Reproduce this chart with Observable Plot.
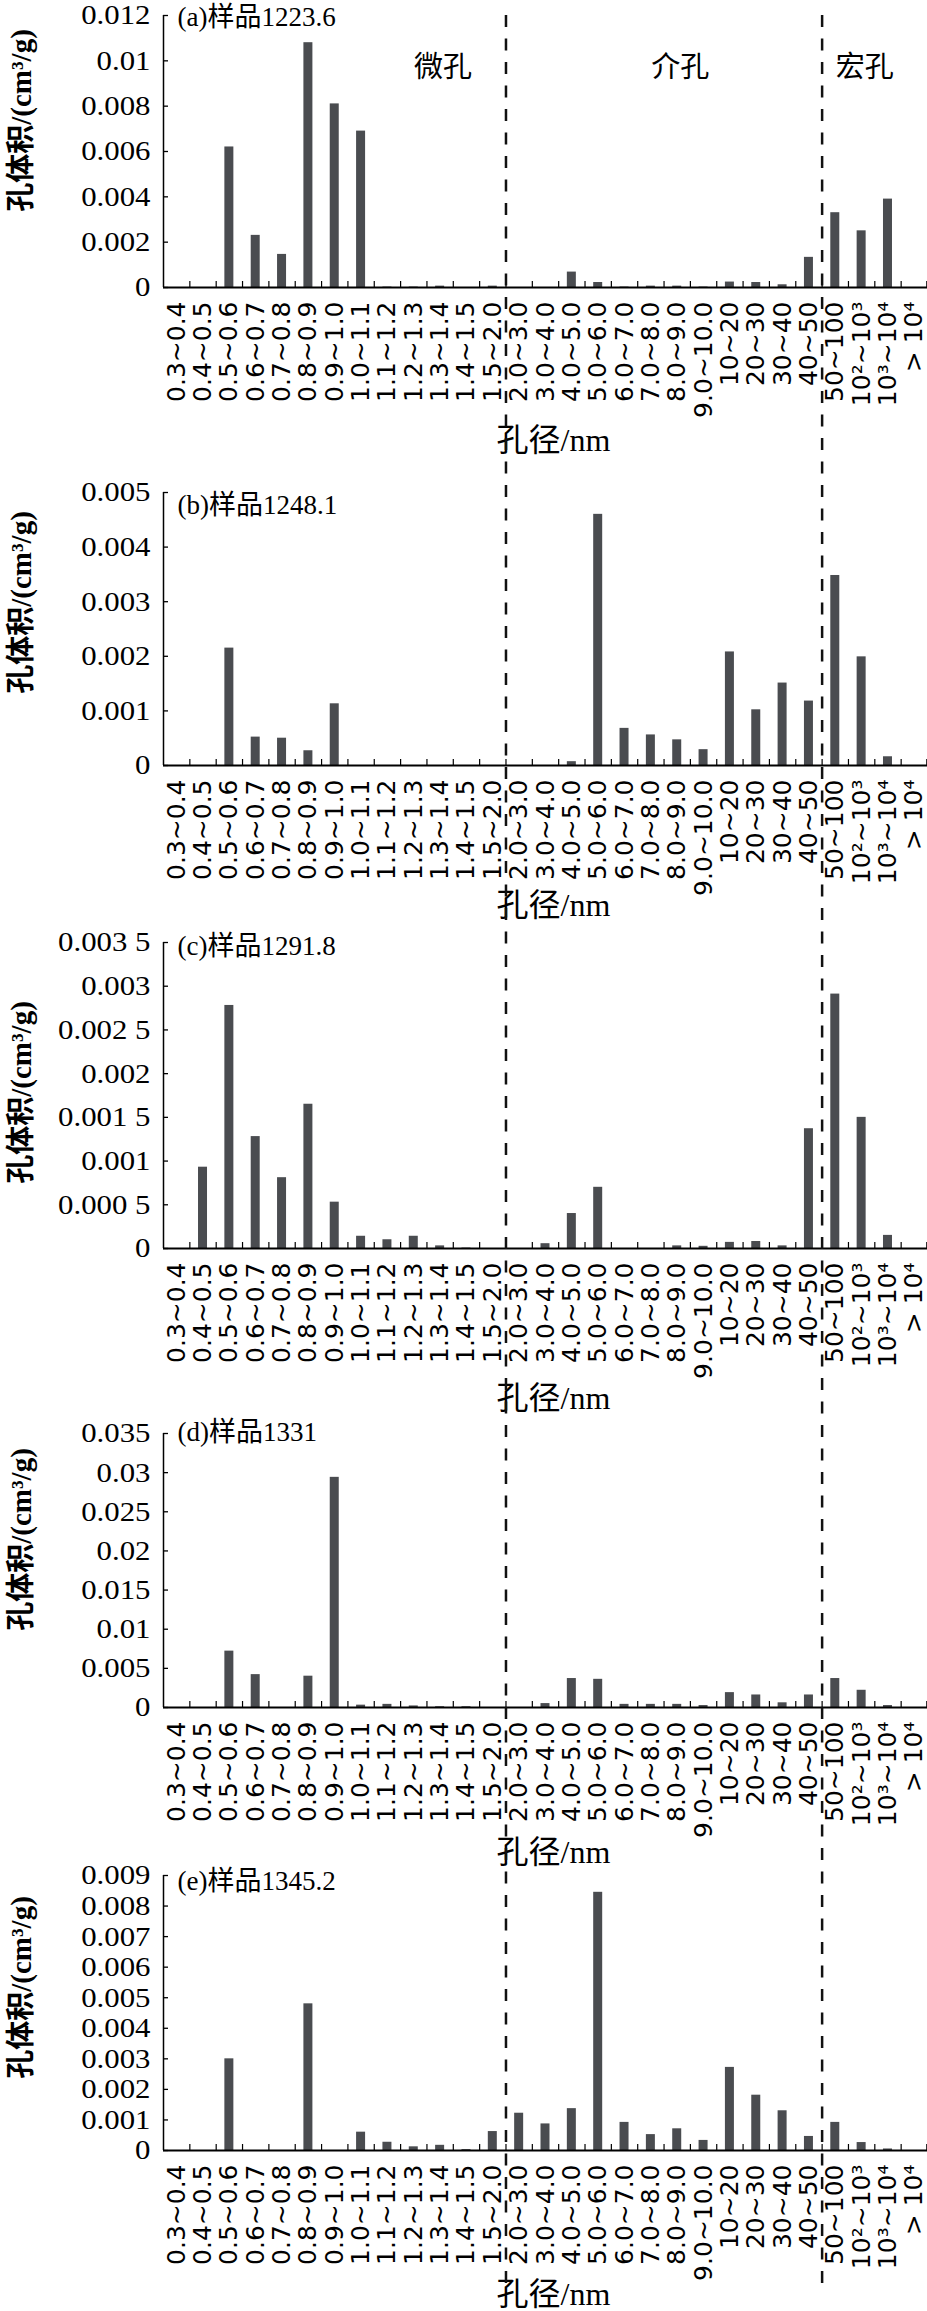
<!DOCTYPE html>
<html><head><meta charset="utf-8">
<script src="https://cdn.jsdelivr.net/npm/d3@7"></script>
<script src="https://cdn.jsdelivr.net/npm/@observablehq/plot@0.6"></script>
<style>
html,body{margin:0;padding:0;background:#fff;}
#chart{width:927px;background:#fff;}
#chart svg{display:block;overflow:visible;}
</style></head><body><div id="chart"></div>
<script>
// ---- data ----
const categories = ["0.3~0.4","0.4~0.5","0.5~0.6","0.6~0.7","0.7~0.8","0.8~0.9","0.9~1.0","1.0~1.1","1.1~1.2","1.2~1.3","1.3~1.4","1.4~1.5","1.5~2.0","2.0~3.0","3.0~4.0","4.0~5.0","5.0~6.0","6.0~7.0","7.0~8.0","8.0~9.0","9.0~10.0","10~20","20~30","30~40","40~50","50~100","10²~10³","10³~10⁴","> 10⁴"];

const sample1223_6 = [0, 0, 0.0062, 0.0023, 0.00146, 0.0108, 0.0081, 0.0069, 0.00002, 0.00002, 0.00006, 0, 0.00006, 0, 0, 0.00068, 0.00022, 0.00002, 0.00006, 0.00006, 0.00002, 0.00024, 0.00022, 0.00012, 0.00133, 0.0033, 0.0025, 0.0039, 0];
const sample1248_1 = [0, 0, 0.00215, 0.00052, 0.0005, 0.00027, 0.00113, 0, 0, 0, 0, 0, 0, 0, 0, 0.00007, 0.0046, 0.00068, 0.00056, 0.00047, 0.00029, 0.00208, 0.00102, 0.00151, 0.00118, 0.00348, 0.00199, 0.00016, 0];
const sample1291_8 = [0, 0.00093, 0.00278, 0.00128, 0.00081, 0.00165, 0.00053, 0.00014, 0.0001, 0.00014, 0.00003, 0.000005, 0, 0, 0.000055, 0.0004, 0.0007, 0, 0, 0.00003, 0.000025, 0.00007, 0.00008, 0.00003, 0.00137, 0.00291, 0.0015, 0.00015, 0];
const sample1331 = [0, 0, 0.0072, 0.0042, 0, 0.004, 0.0294, 0.0003, 0.0004, 0.0002, 0.0001, 0.0001, 0, 0, 0.0005, 0.0037, 0.0036, 0.0004, 0.0004, 0.0004, 0.00025, 0.0019, 0.0016, 0.0006, 0.0016, 0.0037, 0.0022, 0.00025, 0];
const sample1345_2 = [0, 0, 0.003, 0, 0, 0.0048, 0, 0.0006, 0.00027, 0.00012, 0.00017, 0.00003, 0.00062, 0.00122, 0.00087, 0.00137, 0.00845, 0.00092, 0.00052, 0.00071, 0.00033, 0.00272, 0.00181, 0.0013, 0.00046, 0.00092, 0.00026, 0.00005, 0];

const yTicksA = [0, 0.002, 0.004, 0.006, 0.008, 0.01, 0.012];
const yTickLabelsA = ["0", "0.002", "0.004", "0.006", "0.008", "0.01", "0.012"];
const yTicksB = [0, 0.001, 0.002, 0.003, 0.004, 0.005];
const yTickLabelsB = ["0", "0.001", "0.002", "0.003", "0.004", "0.005"];
const yTicksC = [0, 0.0005, 0.001, 0.0015, 0.002, 0.0025, 0.003, 0.0035];
const yTickLabelsC = ["0", "0.000 5", "0.001", "0.001 5", "0.002", "0.002 5", "0.003", "0.003 5"];
const yTicksD = [0, 0.005, 0.01, 0.015, 0.02, 0.025, 0.03, 0.035];
const yTickLabelsD = ["0", "0.005", "0.01", "0.015", "0.02", "0.025", "0.03", "0.035"];
const yTicksE = [0, 0.001, 0.002, 0.003, 0.004, 0.005, 0.006, 0.007, 0.008, 0.009];
const yTickLabelsE = ["0", "0.001", "0.002", "0.003", "0.004", "0.005", "0.006", "0.007", "0.008", "0.009"];

const panelTitles = ["(a)样品1223.6", "(b)样品1248.1", "(c)样品1291.8", "(d)样品1331", "(e)样品1345.2"];
const regionLabels = ["微孔", "介孔", "宏孔"];
const regionAnchors = ["1.3~1.4", "8.0~9.0", "10²~10³"];
const dividerCats = ["2.0~3.0", "50~100"];
const yTitle = "孔体积/(cm³/g)";
const xTitle = "孔径/nm";

// ---- layout ----
const W = 927, ML = 163, MR = 0;
const frameW = W - ML - MR;
const bw = frameW / categories.length;
const barW = 9;
const serif = "'Liberation Serif','Noto Sans CJK SC',serif";
const dashPeriod = 23.5;

const panels = [
  {values: sample1223_6, domain: [0, 0.012], ticks: yTicksA, labels: yTickLabelsA, h: 466, mt: 15, mb: 179, titleDy: 2, yLabelDy: 105, xTitleDy: 153, regions: true},
  {values: sample1248_1, domain: [0, 0.005], ticks: yTicksB, labels: yTickLabelsB, h: 456, mt: 26, mb: 157, titleDy: 13, yLabelDy: 110, xTitleDy: 140},
  {values: sample1291_8, domain: [0, 0.0035], ticks: yTicksC, labels: yTickLabelsC, h: 494, mt: 20, mb: 168, titleDy: 4, yLabelDy: 150, xTitleDy: 150},
  {values: sample1331, domain: [0, 0.035], ticks: yTicksD, labels: yTickLabelsD, h: 452, mt: 17, mb: 161, titleDy: -1, yLabelDy: 106, xTitleDy: 145},
  {values: sample1345_2, domain: [0, 0.009], ticks: yTicksE, labels: yTickLabelsE, h: 443, mt: 7, mb: 161, titleDy: 6, yLabelDy: 112, xTitleDy: 144, dashEnd: 417}
];

function stretch(svg, selector, factor) {
  d3.select(svg).selectAll(selector).each(function () {
    const len = this.getComputedTextLength();
    if (len > 0) {
      this.setAttribute("textLength", (len * factor).toFixed(2));
      this.setAttribute("lengthAdjust", "spacingAndGlyphs");
    }
  });
}

const chart = document.getElementById("chart");
let yOffset = 0;
const firstDashStart = panels[0].mt;

panels.forEach((p, k) => {
  const data = categories.map((c, i) => ({cat: c, v: p.values[i]}));
  const labelMap = new Map(p.ticks.map((t, i) => [t, p.labels[i]]));
  const dashStartLocal = k === 0 ? p.mt : 0;
  const dashEndLocal = p.dashEnd != null ? p.dashEnd : p.h;
  const dashOffset = ((yOffset + dashStartLocal - firstDashStart) % dashPeriod + dashPeriod) % dashPeriod;
  const marks = [
    Plot.barY(data, {x: "cat", y: "v", fill: "#4a4c50", insetLeft: (bw - barW) / 2, insetRight: (bw - barW) / 2}),
    // boundary ticks (pointing up)
    Plot.ruleX(categories.slice(1), {x: d => d, dx: -bw / 2, y1: 0, y2: 0, insetTop: -6, stroke: "#000", strokeWidth: 1.2}),
    Plot.ruleX([categories[categories.length - 1]], {x: d => d, dx: bw / 2 - 0.7, y1: 0, y2: 0, insetTop: -6, stroke: "#000", strokeWidth: 1.2}),
    // y axis line
    Plot.ruleX([categories[0]], {x: d => d, dx: -bw / 2, stroke: "#000", strokeWidth: 1.5}),
    // x axis line
    Plot.ruleY([0], {stroke: "#000", strokeWidth: 1.8}),
    // y ticks pointing in
    Plot.ruleY(p.ticks, {insetRight: frameW - 5, stroke: "#000", strokeWidth: 1.3}),
    Plot.axisY(p.ticks, {tickSize: 0, tickPadding: 13, tickFormat: d => labelMap.get(d), fontSize: 28, fontFamily: serif}),
    Plot.text(categories, {x: d => d, text: d => d, frameAnchor: "bottom", rotate: -90, textAnchor: "end", lineAnchor: "middle", dy: 14, fontSize: 25, fontFamily: "'DejaVu Sans',sans-serif"}),
    Plot.text([panelTitles[k]], {text: d => d, frameAnchor: "top-left", dx: 14, dy: p.titleDy, textAnchor: "start", lineAnchor: "middle", fontSize: 27, fontFamily: serif, ariaLabel: "ptitle"}),
    Plot.text([yTitle], {text: d => d, frameAnchor: "top-left", dx: -142, dy: p.yLabelDy, rotate: -90, textAnchor: "middle", lineAnchor: "middle", fontSize: 29, fontWeight: "bold", fontFamily: serif, ariaLabel: "ytitle"}),
    Plot.text([xTitle], {text: d => d, frameAnchor: "bottom", dx: 8, dy: p.xTitleDy, textAnchor: "middle", lineAnchor: "middle", fontSize: 32, fontFamily: serif, ariaLabel: "xtitle"})
  ];
  if (p.regions) {
    marks.push(Plot.text(regionLabels, {x: (d, i) => regionAnchors[i], text: d => d, frameAnchor: "top", dx: 3, dy: 52, lineAnchor: "middle", fontSize: 29, fontFamily: serif}));
  }
  marks.push(Plot.ruleX(dividerCats, {
    x: d => d, dx: -bw / 2, stroke: "#111", strokeWidth: 2.5,
    strokeDasharray: "12,11.5", strokeDashoffset: dashOffset,
    insetTop: dashStartLocal - p.mt,
    insetBottom: (p.h - p.mb) - dashEndLocal
  }));
  const svg = Plot.plot({
    width: W, height: p.h,
    marginLeft: ML, marginRight: MR, marginTop: p.mt, marginBottom: p.mb,
    style: {background: "transparent", fontFamily: serif, overflow: "visible"},
    x: {type: "band", domain: categories, padding: 0, round: false, axis: null},
    y: {domain: p.domain, label: null},
    marks
  });
  chart.appendChild(svg);
  stretch(svg, 'g[aria-label="y-axis tick label"] text', 1.1);
  stretch(svg, 'g[aria-label="ptitle"] text', 1.12);
  stretch(svg, 'g[aria-label="xtitle"] text', 1.05);
  d3.select(svg).selectAll('g[aria-label="ytitle"] text').attr("textLength", 220).attr("lengthAdjust", "spacingAndGlyphs");
  yOffset += p.h;
});
</script></body></html>
